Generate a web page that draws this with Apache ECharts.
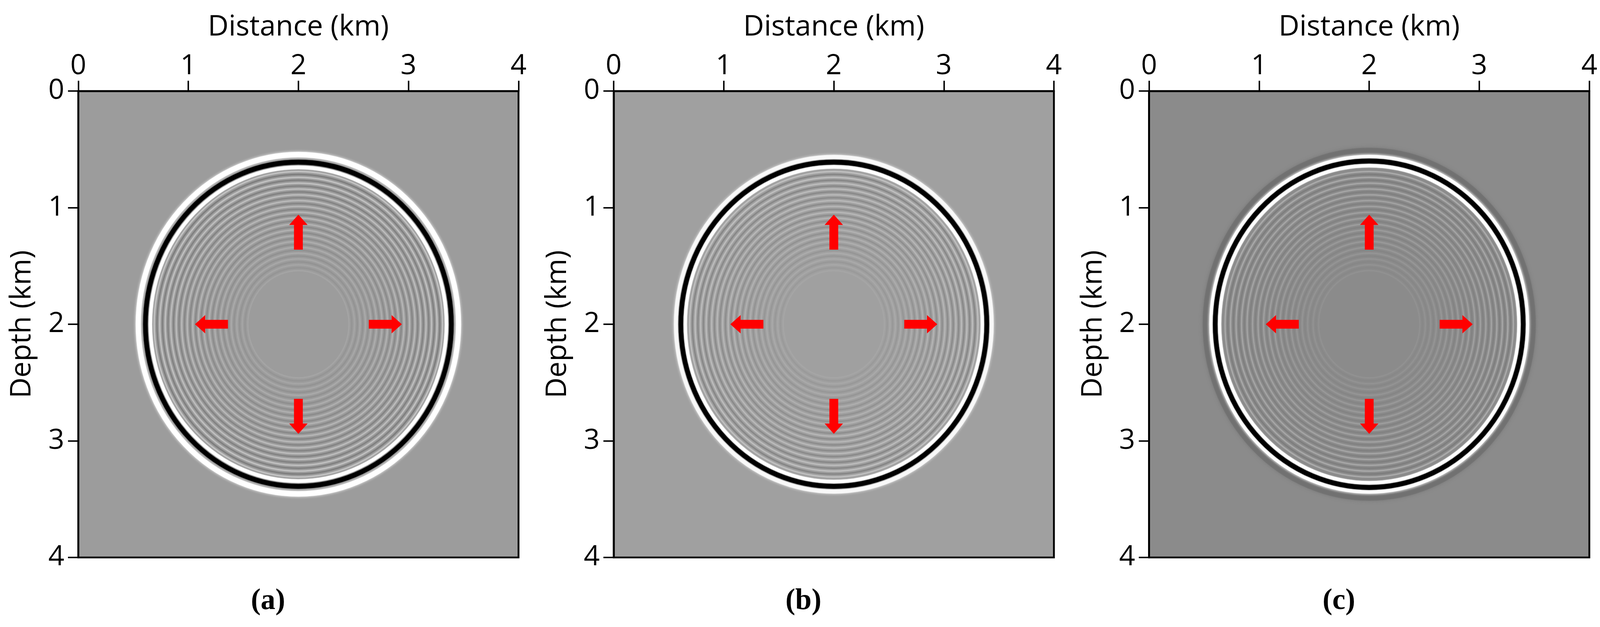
<!DOCTYPE html>
<html>
<head>
<meta charset="utf-8">
<script src="https://cdn.jsdelivr.net/npm/echarts@6/dist/echarts.min.js"></script>
<style>html,body{margin:0;padding:0;background:#fff;overflow:hidden}#main{width:100vw;height:100vh}</style>
</head>
<body>
<div id="main"></div>
<script>
// data (km)
var ticks = [0, 1, 2, 3, 4];
var panels = ['a', 'b', 'c'];
var center = [2, 2];
// main wavefront per panel: [outer halo, black front, inner bright]
var frontA = [1.455, 1.39, 1.345];
var frontB = [1.435, 1.39, 1.35];
var frontC = [1.435, 1.40, 1.36];
var haloC = [1.49];
// fine interference rings behind the front
var innerRings = [1.31, 1.285, 1.26, 1.235, 1.21, 1.185, 1.16, 1.135, 1.11, 1.085, 1.06, 1.035,
  1.01, 0.985, 0.96, 0.935, 0.91, 0.885, 0.86, 0.835, 0.81, 0.785, 0.76, 0.735, 0.71, 0.685,
  0.66, 0.635, 0.61, 0.585, 0.56, 0.535, 0.51, 0.485, 0.46];
// arrows: [x0, y0, x1, y1] tail -> head
var arrows = [[2, 1.36, 2, 1.06], [2, 2.64, 2, 2.94], [1.36, 2, 1.06, 2], [2.64, 2, 2.94, 2]];

var dom = document.getElementById('main');
var myChart = echarts.init(dom);
var W = myChart.getWidth(), H = myChart.getHeight();
var sx = W / 4354, sy = H / 1605, s = sx;

var lefts = [213, 1670, 3127];
var plotW = 1198, plotH = 1194, top0 = 233;
var capX = [724, 2181, 3638];
var bgs = ['#9c9c9c', '#a0a0a0', '#8b8b8b'];
var fronts = [frontA, frontB, frontC];
var innerAlpha = [0.5, 0.42, 0.32];
var font = '"Open Sans", "Noto Sans", sans-serif';

function ringItem(r, color, width, blur, opacity) {
  return function (params, api) {
    var c = api.coord(center);
    var sz = api.size([r, r]);
    return {
      type: 'circle', x: c[0], y: c[1], scaleY: sz[1] / sz[0],
      shape: { cx: 0, cy: 0, r: sz[0] },
      style: { fill: null, stroke: color, lineWidth: width * s, opacity: opacity,
        shadowBlur: blur * s, shadowColor: color }
    };
  };
}

var grids = [], xAxes = [], yAxes = [], series = [], titles = [];
panels.forEach(function (p, i) {
  grids.push({ left: lefts[i] * sx, top: top0 * sy, width: plotW * sx, height: plotH * sy, show: true,
    backgroundColor: bgs[i], borderColor: '#000', borderWidth: 5 * s, z: 0 });
  xAxes.push({ gridIndex: i, type: 'value', position: 'top', min: 0, max: 4, interval: 1,
    name: 'Distance (km)', nameLocation: 'middle', nameGap: 126 * sy,
    nameTextStyle: { fontSize: 78 * s, fontFamily: font, color: '#000' },
    axisLine: { show: true, lineStyle: { color: '#000', width: 5 * s } },
    axisTick: { show: true, length: 28 * s, lineStyle: { color: '#000', width: 4 * s } },
    axisLabel: { margin: 28 * sy, fontSize: 76 * s, fontFamily: font, color: '#000',
      formatter: function (v) { return ticks.indexOf(v) >= 0 ? String(v) : ''; } },
    splitLine: { show: false } });
  yAxes.push({ gridIndex: i, type: 'value', inverse: true, min: 0, max: 4, interval: 1,
    name: 'Depth (km)', nameLocation: 'middle', nameGap: 113 * sx, nameRotate: 90,
    nameTextStyle: { fontSize: 78 * s, fontFamily: font, color: '#000' },
    axisLine: { show: true, lineStyle: { color: '#000', width: 5 * s } },
    axisTick: { show: true, length: 28 * s, lineStyle: { color: '#000', width: 4 * s } },
    axisLabel: { margin: 38 * sx, fontSize: 76 * s, fontFamily: font, color: '#000' },
    splitLine: { show: false } });
  titles.push({ text: '{p|(}{b|' + p + '}{p|)}', left: capX[i] * sx, top: 1497 * sy,
    textAlign: 'center',
    textStyle: { rich: { p: { fontSize: 80 * s, fontFamily: '"Liberation Serif", serif', color: '#000' },
      b: { fontSize: 80 * s, fontWeight: 'bold', fontFamily: '"Liberation Serif", serif', color: '#000' } } } });

  var f = fronts[i];
  var rings = [];
  innerRings.forEach(function (r, k) {
    var fade = innerAlpha[i] * (0.2 + 0.8 * (r - 0.46) / 0.85);
    rings.push(ringItem(r, k % 2 ? '#606060' : '#e8e8e8', 4, 0, fade));
  });
  if (i === 2) rings.push(ringItem(haloC[0], '#6a6a6a', 14, 10, 0.6));
  rings.push(ringItem(f[0], '#ffffff', i === 0 ? 14 : 11, 8, i === 1 ? 0.8 : 0.95));
  rings.push(ringItem(f[2], '#ffffff', 9, 3, 0.95));
  rings.push(ringItem(f[1], '#000000', 12, 3, 1));

  series.push({ type: 'custom', xAxisIndex: i, yAxisIndex: i, data: [center], silent: true,
    renderItem: function (params, api) {
      return { type: 'group', children: rings.map(function (fn) { return fn(params, api); }) };
    } });

  series.push({ type: 'custom', xAxisIndex: i, yAxisIndex: i, data: arrows, silent: true, z: 5,
    renderItem: function (params, api) {
      var a = api.coord([api.value(0), api.value(1)]);
      var b = api.coord([api.value(2), api.value(3)]);
      var dx = b[0] - a[0], dy = b[1] - a[1];
      var len = Math.sqrt(dx * dx + dy * dy);
      var ux = dx / len, uy = dy / len, nx = -uy, ny = ux;
      var sw = 12 * s, hw = 25 * s, hl = 28 * s;
      var bx = b[0] - ux * hl, by = b[1] - uy * hl;
      var pts = [
        [a[0] + nx * sw, a[1] + ny * sw], [bx + nx * sw, by + ny * sw], [bx + nx * hw, by + ny * hw],
        b, [bx - nx * hw, by - ny * hw], [bx - nx * sw, by - ny * sw], [a[0] - nx * sw, a[1] - ny * sw]
      ];
      return { type: 'polygon', shape: { points: pts }, style: { fill: '#ff0000' } };
    } });
});

var option = {
  backgroundColor: '#fff',
  animation: false,
  title: titles,
  grid: grids,
  xAxis: xAxes,
  yAxis: yAxes,
  series: series
};
myChart.setOption(option);
</script>
</body>
</html>
